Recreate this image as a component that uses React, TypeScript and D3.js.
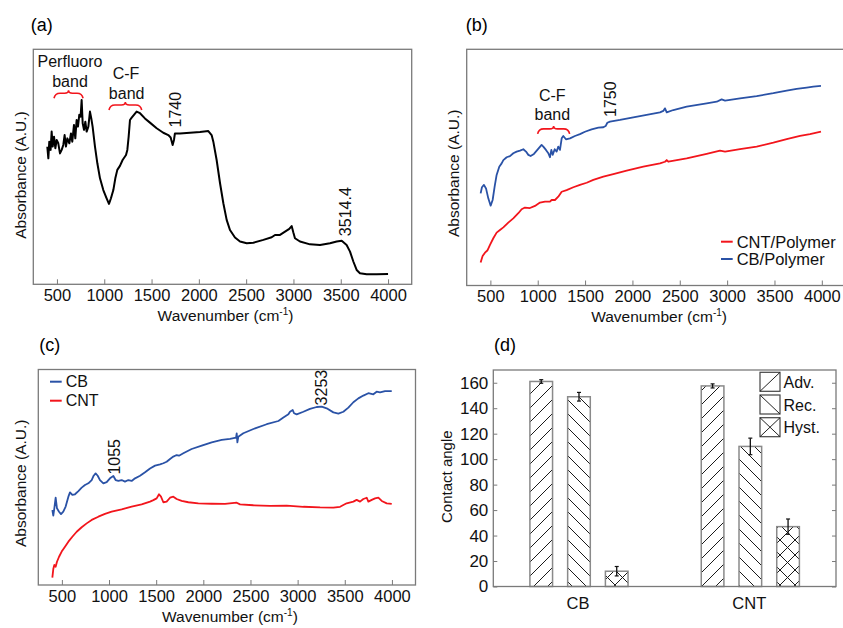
import React, { useEffect, useRef } from "react"
import * as d3 from "d3"

type Pt = [number, number]

const FONT = "'Liberation Sans', Arial, sans-serif"
const WN_TICKS = [500, 1000, 1500, 2000, 2500, 3000, 3500, 4000]
const ANGLE_TICKS = [0, 20, 40, 60, 80, 100, 120, 140, 160]

// (a) polymer spectrum, absorbance in arbitrary units (0-100 of frame height)
const polymerSpectrum: Pt[] = [
    [398, 58.6], [409, 53.6], [419, 60.7], [433, 57.2], [444, 65], [455, 58.6], [469, 62.8], [483, 57.9],
    [497, 61.4], [514, 60], [532, 55.7], [550, 57.2], [567, 59.3], [581, 63.5], [595, 58.6], [610, 62.1],
    [631, 60], [648, 64.2], [662, 60.7], [680, 67.8], [694, 62.1], [708, 69.9], [722, 67.1], [736, 72.1],
    [750, 71.3], [761, 78.4], [772, 68.5], [786, 65.7], [800, 69.2], [814, 65], [832, 67.1], [849, 73.5],
    [863, 70.6], [877, 67.1], [902, 58.6], [927, 51.5], [955, 45.1], [990, 40.1], [1025, 36.6], [1050, 34.2],
    [1071, 36.6], [1096, 40.1], [1117, 45.1], [1138, 48.7], [1166, 50.4], [1194, 52.9], [1230, 55], [1244, 57.2],
    [1258, 62.8], [1272, 69.9], [1290, 70.9], [1314, 72.1], [1342, 73.5], [1378, 72.8], [1430, 70.6], [1483, 68.8],
    [1554, 66.4], [1624, 64.5], [1677, 63.5], [1702, 62.5], [1723, 59.3], [1737, 61.4], [1747, 64.2], [1800, 64.2],
    [1906, 64.5], [2012, 64.8], [2100, 65.2], [2135, 63.5], [2153, 60.7], [2188, 52.9], [2224, 43], [2259, 34.5],
    [2294, 27.4], [2329, 23.1], [2382, 19.9], [2435, 18.2], [2506, 17.5], [2576, 17.7], [2682, 18.9], [2770, 20],
    [2805, 21], [2858, 21], [2911, 22.4], [2956, 23.6], [2981, 24.8], [2999, 22], [3016, 19.6], [3069, 18.2],
    [3175, 17], [3281, 16.7], [3386, 17.5], [3457, 18.2], [3510, 18.5], [3562, 16.7], [3598, 13.9], [3633, 9.7],
    [3668, 6.1], [3703, 4.7], [3774, 4.3], [3880, 4.3], [4000, 4.4],
]

// (b) composites with polymer
const cbPolymerSpectrum: Pt[] = [
    [397, 39], [411, 41.6], [432, 42.6], [454, 41.1], [478, 36.9], [503, 33.8], [524, 36.2], [545, 41.9],
    [566, 46.8], [594, 50.3], [619, 51.7], [637, 53.1], [672, 54.3], [707, 54.8], [742, 56], [777, 56.7],
    [813, 57.1], [848, 57.7], [876, 56.7], [901, 55.3], [925, 54.8], [960, 55.7], [996, 57.4], [1041, 59.5],
    [1059, 58.8], [1087, 57.4], [1112, 56], [1129, 54.3], [1144, 57.4], [1158, 55.3], [1179, 57.7], [1200, 56.7],
    [1217, 58.8], [1235, 57.4], [1253, 62.3], [1270, 63.3], [1298, 61.9], [1341, 62.3], [1393, 63.3], [1446, 64.1],
    [1499, 65.1], [1569, 66.1], [1640, 66.8], [1693, 67], [1717, 67.5], [1735, 68.9], [1763, 69.4], [1869, 70.1],
    [2009, 71.2], [2150, 72.2], [2291, 73.3], [2326, 73.9], [2344, 75], [2362, 73.3], [2432, 74.3], [2573, 75.7],
    [2784, 77.1], [2890, 77.8], [2942, 78.8], [2978, 78.3], [3136, 79.2], [3312, 80.2], [3488, 81.4], [3629, 82.5],
    [3734, 83.2], [3840, 83.8], [3910, 84.2], [3991, 84.5],
]
const cntPolymerSpectrum: Pt[] = [
    [397, 9.7], [418, 12.5], [443, 13.9], [468, 14.8], [496, 17.2], [531, 20], [566, 22.4], [601, 23.5],
    [637, 24.6], [689, 26.6], [742, 28.4], [795, 30.6], [830, 32.3], [865, 33], [918, 32.8], [971, 33.7],
    [1024, 35.1], [1077, 35.5], [1129, 35.5], [1147, 36.2], [1182, 36.2], [1217, 37.6], [1253, 39.7], [1305, 40.4],
    [1376, 41.6], [1446, 42.6], [1517, 43.5], [1587, 44.7], [1693, 46.1], [1798, 47.2], [1939, 48.6], [2115, 50.3],
    [2291, 51.7], [2344, 52.4], [2362, 53.1], [2379, 52.4], [2573, 53.8], [2784, 55.7], [2925, 57.1], [2978, 56.7],
    [3136, 57.7], [3312, 58.8], [3488, 60.5], [3629, 62], [3770, 63.3], [3875, 64.1], [3991, 65.1],
]

// (c) bare fillers
const cbSpectrum: Pt[] = [
    [399, 34.8], [409, 32.2], [420, 35.6], [434, 40.5], [448, 35.6], [470, 34], [491, 32.9], [515, 34],
    [540, 36.4], [569, 41], [586, 43], [611, 41.8], [639, 42.1], [675, 43.6], [710, 45.2], [745, 46.4],
    [781, 47.2], [816, 48.7], [837, 50.7], [858, 51.8], [880, 50.7], [904, 48.7], [940, 47.2], [975, 47.7],
    [1010, 49.5], [1046, 50.6], [1070, 48.7], [1099, 48.3], [1134, 48.7], [1169, 48], [1205, 48.7], [1240, 48.3],
    [1276, 49.5], [1329, 50.7], [1382, 52.3], [1435, 54.1], [1488, 55.4], [1541, 56], [1576, 56.5], [1611, 57.2],
    [1647, 58.5], [1682, 59.6], [1717, 60.3], [1742, 60], [1788, 61.1], [1876, 63.1], [1983, 64.7], [2089, 66.2],
    [2195, 67.3], [2283, 67.8], [2347, 68.4], [2354, 70.4], [2361, 66.2], [2371, 68.8], [2424, 70.4], [2531, 72.4],
    [2672, 74.6], [2796, 76.1], [2849, 77.7], [2902, 79.2], [2919, 80.4], [2948, 81.2], [2962, 79.7], [2990, 79.2],
    [3061, 80.4], [3131, 81.7], [3202, 82.6], [3255, 82.8], [3308, 82], [3379, 80.1], [3432, 79.5], [3485, 80.4],
    [3538, 82.3], [3591, 84.8], [3644, 86.6], [3697, 87.9], [3750, 89], [3803, 88.5], [3838, 89.7], [3874, 89.4],
    [3927, 90], [3998, 90],
]
const cntSpectrum: Pt[] = [
    [399, 3.4], [409, 7.4], [420, 9.3], [434, 8.5], [448, 10.8], [470, 13.1], [498, 15.5], [533, 17.8],
    [569, 20.1], [611, 22.4], [657, 24.7], [710, 26.8], [763, 28.6], [816, 30.2], [887, 31.7], [957, 33],
    [1028, 34], [1134, 35.1], [1240, 36.4], [1346, 37.4], [1435, 38.7], [1470, 39.4], [1505, 40.2], [1530, 42.1],
    [1551, 41], [1576, 38.4], [1611, 38.7], [1647, 40.5], [1682, 41], [1717, 39.9], [1770, 39], [1841, 38.4],
    [1947, 37.9], [2089, 37.7], [2230, 37.6], [2354, 38.2], [2389, 37.4], [2531, 37], [2707, 36.7], [2884, 36.8],
    [3061, 36.3], [3238, 36], [3379, 35.9], [3450, 36.3], [3520, 37.9], [3591, 38.7], [3626, 39.5], [3662, 38.7],
    [3697, 39.9], [3733, 40.5], [3750, 38.7], [3786, 39.5], [3821, 40.2], [3856, 40.5], [3892, 39], [3945, 37.9],
    [3998, 37.6],
]

// (d) contact angles
const angleGroups = ["CB", "CNT"]
const angleKinds = ["Adv.", "Rec.", "Hyst."]
const cbAngles = [161, 149, 12]
const cbAngleErrors = [1.4, 3.4, 3.7]
const cntAngles = [157.5, 110, 47]
const cntAngleErrors = [1.6, 6.5, 6]

const RED = "#f2151c"
const BLUE = "#2a52a6"
const FRAME = "#7a7a7a"

const App = () => {
    const svgRef = useRef(null)

    useEffect(() => {
        const svg = d3.select(svgRef.current)
        svg.selectAll("*").remove()
        svg.attr("font-family", FONT)

        const defs = svg.append("defs")
        const hatch = (id, size, d) => {
            const p = defs.append("pattern").attr("id", id).attr("patternUnits", "userSpaceOnUse")
                .attr("width", size).attr("height", size)
            p.append("rect").attr("width", size).attr("height", size).attr("fill", "#fff")
            p.append("path").attr("d", d).attr("stroke", "#1a1a1a").attr("stroke-width", 1).attr("fill", "none")
        }
        hatch("hAdv", 14, "M-3.5,3.5L3.5,-3.5M0,14L14,0M10.5,17.5L17.5,10.5")
        hatch("hRec", 14, "M-3.5,10.5L3.5,17.5M0,0L14,14M10.5,-3.5L17.5,3.5")
        hatch("hHyst", 15, "M0,15L15,0M0,0L15,15")

        const panelLabel = (t, cx, cy) =>
            svg.append("text").attr("x", cx).attr("y", cy).attr("text-anchor", "middle")
                .attr("dominant-baseline", "central").attr("font-size", 18).text(t)

        const yTitle = (t, cx, cy, size) =>
            svg.append("text").attr("transform", `translate(${cx},${cy}) rotate(-90)`)
                .attr("text-anchor", "middle").attr("dominant-baseline", "central")
                .attr("font-size", size).attr("fill", "#111").text(t)

        const spectrumPanel = (box, series) => {
            const x = d3.scaleLinear().domain([250, 4250]).range([box.left, box.right])
            const y = d3.scaleLinear().domain([0, 100]).range([box.bottom, box.top])
            const g = svg.append("g")
            g.append("rect").attr("x", box.left).attr("y", box.top)
                .attr("width", box.right - box.left).attr("height", box.bottom - box.top)
                .attr("fill", "none").attr("stroke", FRAME).attr("stroke-width", 1.3)
            const ax = g.append("g").attr("transform", `translate(0,${box.bottom})`)
                .call(d3.axisBottom(x).tickValues(WN_TICKS).tickSize(-5).tickPadding(5).tickFormat(d3.format("d")))
            ax.attr("font-family", FONT).attr("font-size", 16.5)
            ax.select(".domain").remove()
            ax.selectAll("line").attr("stroke", FRAME)
            ax.selectAll("text").attr("fill", "#111")
            const t = g.append("text").attr("x", (box.left + box.right) / 2 + 3).attr("y", box.bottom + 36.5)
                .attr("text-anchor", "middle").attr("font-size", 15.5).attr("fill", "#111")
            t.append("tspan").text("Wavenumber (cm")
            t.append("tspan").attr("font-size", 10).attr("dy", -6).text("-1")
            t.append("tspan").attr("dy", 6).text(")")
            const line = d3.line().x((d) => x(d[0])).y((d) => y(d[1]))
            series.forEach((s) => {
                g.append("path").datum(s.data).attr("d", line).attr("fill", "none")
                    .attr("stroke", s.color).attr("stroke-width", s.width).attr("stroke-linejoin", "round")
            })
            return { g, x, y }
        }

        const note = (p, t, w, a, rotate = false) => {
            const el = p.g.append("text").attr("text-anchor", "middle").attr("dominant-baseline", "central")
                .attr("font-size", 16).attr("fill", "#111").text(t)
            if (rotate) el.attr("transform", `translate(${p.x(w)},${p.y(a)}) rotate(-90)`)
            else el.attr("x", p.x(w)).attr("y", p.y(a))
        }
        const brace = (p, w0, w1, a) => {
            const x0 = p.x(w0), x1 = p.x(w1), yy = p.y(a), m = (x0 + x1) / 2
            const d = `M${x0},${yy + 5}Q${x0 + 1},${yy} ${x0 + 6},${yy}L${m - 4},${yy}Q${m},${yy} ${m},${yy - 3}` +
                `Q${m},${yy} ${m + 4},${yy}L${x1 - 6},${yy}Q${x1 - 1},${yy} ${x1},${yy + 5}`
            p.g.append("path").attr("d", d).attr("fill", "none").attr("stroke", RED).attr("stroke-width", 1.6)
        }
        const legendLine = (g, x0, x1, yy, color, label, size) => {
            g.append("line").attr("x1", x0).attr("x2", x1).attr("y1", yy).attr("y2", yy)
                .attr("stroke", color).attr("stroke-width", 2)
            g.append("text").attr("x", x1 + 4).attr("y", yy).attr("dominant-baseline", "central")
                .attr("font-size", size).attr("fill", "#111").text(label)
        }

        // (a)
        panelLabel("(a)", 41.7, 25)
        yTitle("Absorbance (A.U.)", 20, 175, 15.5)
        const pa = spectrumPanel({ left: 33.3, top: 49.3, right: 411.7, bottom: 284.3 },
            [{ data: polymerSpectrum, color: "#000", width: 2 }])
        note(pa, "Perfluoro", 638, 94.7)
        note(pa, "band", 638, 86.5)
        note(pa, "C-F", 1230, 89.5)
        note(pa, "band", 1237, 81)
        brace(pa, 469, 776, 81.3)
        brace(pa, 1050, 1396, 76.3)
        note(pa, "1740", 1756, 74.3, true)
        note(pa, "3514.4", 3553, 30.9, true)

        // (b)
        panelLabel("(b)", 476.7, 25)
        yTitle("Absorbance (A.U.)", 453.3, 173.3, 15.5)
        const pb = spectrumPanel({ left: 466.7, top: 49.3, right: 845.5, bottom: 285.5 }, [
            { data: cntPolymerSpectrum, color: RED, width: 1.8 },
            { data: cbPolymerSpectrum, color: BLUE, width: 1.8 },
        ])
        note(pb, "C-F", 1154, 80.4)
        note(pb, "band", 1154, 72.2)
        brace(pb, 999, 1337, 66.3)
        note(pb, "1750", 1772, 78.9, true)
        legendLine(pb.g, 721, 732.7, 241.7, RED, "CNT/Polymer", 16.5)
        legendLine(pb.g, 721, 732.7, 259, BLUE, "CB/Polymer", 16.5)

        // (c)
        panelLabel("(c)", 49.7, 345)
        yTitle("Absorbance (A.U.)", 20, 483.3, 15.5)
        const pc = spectrumPanel({ left: 38.3, top: 369.5, right: 415.5, bottom: 585 }, [
            { data: cbSpectrum, color: BLUE, width: 1.8 },
            { data: cntSpectrum, color: RED, width: 1.8 },
        ])
        note(pc, "1055", 1055, 59.5, true)
        note(pc, "3253", 3255, 91.6, true)
        legendLine(pc.g, 50, 61.7, 381.7, BLUE, "CB", 16)
        legendLine(pc.g, 50, 61.7, 400.7, RED, "CNT", 16)

        // (d)
        panelLabel("(d)", 505, 345)
        yTitle("Contact angle", 446.7, 476.7, 15)
        const box = { left: 493.3, top: 370, right: 836, bottom: 586.5 }
        const gd = svg.append("g")
        const x0 = d3.scaleBand().domain(angleGroups).range([box.left, box.right]).padding(0)
        const x1 = d3.scaleBand().domain(angleKinds).range([0, x0.bandwidth()]).paddingInner(0.4).paddingOuter(0.97)
        const yd = d3.scaleLinear().domain([0, 170]).range([box.bottom, box.top])
        const ayl = gd.append("g").attr("transform", `translate(${box.left},0)`)
            .call(d3.axisLeft(yd).tickValues(ANGLE_TICKS).tickSize(-4).tickPadding(5))
        ayl.attr("font-family", FONT).attr("font-size", 17)
        ayl.select(".domain").remove()
        ayl.selectAll("line").attr("stroke", FRAME)
        ayl.selectAll("text").attr("fill", "#111")
        const ayr = gd.append("g").attr("transform", `translate(${box.right},0)`)
            .call(d3.axisRight(yd).tickValues(ANGLE_TICKS).tickSize(-4).tickFormat(() => ""))
        ayr.select(".domain").remove()
        ayr.selectAll("line").attr("stroke", FRAME)

        const patterns = ["url(#hAdv)", "url(#hRec)", "url(#hHyst)"]
        const rows = [
            { group: "CB", values: cbAngles, errors: cbAngleErrors },
            { group: "CNT", values: cntAngles, errors: cntAngleErrors },
        ]
        rows.forEach((r) => {
            r.values.forEach((v, i) => {
                const bx = x0(r.group) + x1(angleKinds[i])
                const cx = bx + x1.bandwidth() / 2
                gd.append("rect").attr("x", bx).attr("y", yd(v)).attr("width", x1.bandwidth())
                    .attr("height", yd(0) - yd(v)).attr("fill", patterns[i])
                    .attr("stroke", "#8a8a8a").attr("stroke-width", 1.5)
                const e = r.errors[i]
                gd.append("line").attr("x1", cx).attr("x2", cx).attr("y1", yd(v - e)).attr("y2", yd(v + e))
                    .attr("stroke", "#111").attr("stroke-width", 1.3)
                ;[v - e, v + e].forEach((c) => {
                    gd.append("line").attr("x1", cx - 2).attr("x2", cx + 2).attr("y1", yd(c)).attr("y2", yd(c))
                        .attr("stroke", "#111").attr("stroke-width", 1.2)
                })
            })
            gd.append("text").attr("x", x0(r.group) + x0.bandwidth() / 2 - 1).attr("y", box.bottom + 16.5)
                .attr("text-anchor", "middle").attr("dominant-baseline", "central")
                .attr("font-size", 16.5).attr("fill", "#111").text(r.group)
        })
        gd.append("rect").attr("x", box.left).attr("y", box.top)
            .attr("width", box.right - box.left).attr("height", box.bottom - box.top)
            .attr("fill", "none").attr("stroke", FRAME).attr("stroke-width", 1.3)

        // legend swatches
        angleKinds.forEach((k, i) => {
            const lx = 760, ly = 372.3 + i * 22.7, w = 20, h = 19
            gd.append("rect").attr("x", lx).attr("y", ly).attr("width", w).attr("height", h)
                .attr("fill", "#fff").attr("stroke", "#444").attr("stroke-width", 1.2)
            if (i !== 1) gd.append("line").attr("x1", lx).attr("y1", ly + h).attr("x2", lx + w).attr("y2", ly)
                .attr("stroke", "#222").attr("stroke-width", 1)
            if (i !== 0) gd.append("line").attr("x1", lx).attr("y1", ly).attr("x2", lx + w).attr("y2", ly + h)
                .attr("stroke", "#222").attr("stroke-width", 1)
            gd.append("text").attr("x", lx + 23.5).attr("y", ly + h / 2 + 0.5).attr("dominant-baseline", "central")
                .attr("font-size", 16).attr("fill", "#111").text(k)
        })
    }, [])

    return (
        <svg
            ref={svgRef}
            width={843}
            height={628}
            style={{ position: "absolute", left: 0, top: 0, background: "#fff" }}
        />
    )
}

export default App
